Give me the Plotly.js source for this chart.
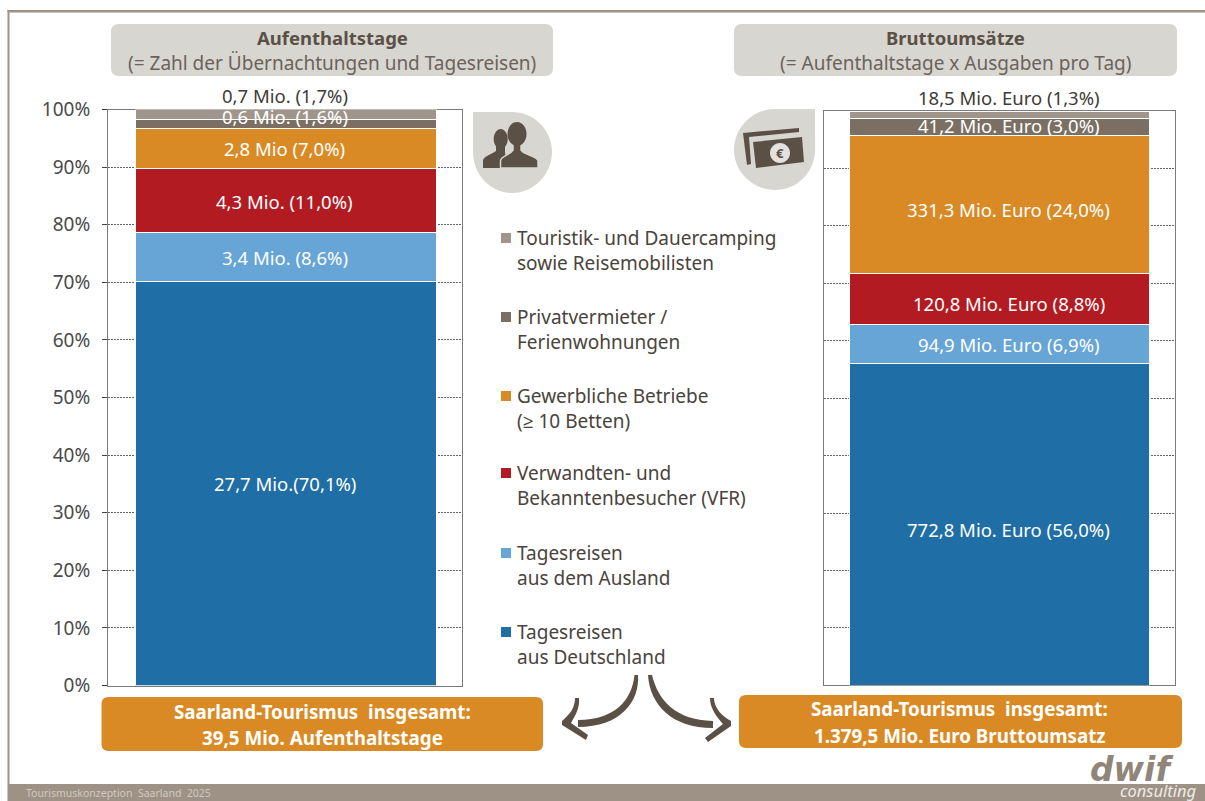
<!DOCTYPE html>
<html><head><meta charset="utf-8">
<script src="https://cdn.plot.ly/plotly-3.0.1.min.js"></script>
<style>html,body{margin:0;padding:0;background:#fff}#c{width:1205px;height:801px}</style></head>
<body><div id="c"></div>
<script>
const seriesNames=["Tagesreisen aus Deutschland","Tagesreisen aus dem Ausland","Verwandten- und Bekanntenbesucher (VFR)","Gewerbliche Betriebe (≥ 10 Betten)","Privatvermieter / Ferienwohnungen","Touristik- und Dauercamping sowie Reisemobilisten"];
const seriesColors=["#1f6ea6","#66a5d6","#b31b22","#d98a24","#7b6f63","#a0958a"];
const aufenthaltValues=[70.1,8.6,11.0,7.0,1.6,1.7];
const aufenthaltLabels=["27,7 Mio.(70,1%)","3,4 Mio. (8,6%)","4,3 Mio. (11,0%)","2,8 Mio (7,0%)","0,6 Mio. (1,6%)","0,7 Mio. (1,7%)"];
const umsatzValues=[56.0,6.9,8.8,24.0,3.0,1.3];
const umsatzLabels=["772,8 Mio. Euro (56,0%)","94,9 Mio. Euro (6,9%)","120,8 Mio. Euro (8,8%)","331,3 Mio. Euro (24,0%)","41,2 Mio. Euro (3,0%)","18,5 Mio. Euro (1,3%)"];
const tickVals=[0,10,20,30,40,50,60,70,80,90,100];
const tickText=["0%","10%","20%","30%","40%","50%","60%","70%","80%","90%","100%"];
const legendTexts=["Touristik- und Dauercamping<br>sowie Reisemobilisten","Privatvermieter /<br>Ferienwohnungen","Gewerbliche Betriebe<br>(≥ 10 Betten)","Verwandten- und<br>Bekanntenbesucher (VFR)","Tagesreisen<br>aus dem Ausland","Tagesreisen<br>aus Deutschland"];

const W=1205,H=801,FONT='"Noto Sans","Open Sans",sans-serif';
const X=p=>p/W, Y=p=>1-p/H;
function P(cmds){return cmds.replace(/(-?[\d.]+),(-?[\d.]+)/g,(m,a,b)=>X(+a).toFixed(5)+','+Y(+b).toFixed(5));}
function round(x0,y0,x1,y1,r){return P(`M${x0+r},${y0} L${x1-r},${y0} Q${x1},${y0} ${x1},${y0+r} L${x1},${y1-r} Q${x1},${y1} ${x1-r},${y1} L${x0+r},${y1} Q${x0},${y1} ${x0},${y1-r} L${x0},${y0+r} Q${x0},${y0} ${x0+r},${y0} Z`);}
function ell(cx,cy,rx,ry){const k=.5523,a=rx*k,b=ry*k;return P(`M${cx-rx},${cy} C${cx-rx},${cy-b} ${cx-a},${cy-ry} ${cx},${cy-ry} C${cx+a},${cy-ry} ${cx+rx},${cy-b} ${cx+rx},${cy} C${cx+rx},${cy+b} ${cx+a},${cy+ry} ${cx},${cy+ry} C${cx-a},${cy+ry} ${cx-rx},${cy+b} ${cx-rx},${cy} Z`);}
const fill=(path,c,line)=>({type:'path',xref:'paper',yref:'paper',path,fillcolor:c,line:line||{width:0},layer:'above'});
const rect=(x0,y0,x1,y1,c)=>({type:'rect',xref:'paper',yref:'paper',x0:X(x0),x1:X(x1),y0:Y(y0),y1:Y(y1),fillcolor:c,line:{width:0},layer:'above'});
const txt=(t,px,py,size,color,extra,fam)=>Object.assign({xref:'paper',yref:'paper',x:X(px),y:Y(py),text:t,showarrow:false,xanchor:'center',yanchor:'middle',font:{family:fam||FONT,size,color}},extra||{});

const traces=[];
function addBars(vals,xa,ya){vals.forEach((v,i)=>traces.push({type:'bar',x:[0],y:[v],width:1,name:seriesNames[i],xaxis:xa,yaxis:ya,showlegend:false,hoverinfo:'skip',marker:{color:seriesColors[i],line:{color:'#fff',width:1}}}));}
addBars(aufenthaltValues,'x','y');
addBars(umsatzValues,'x2','y2');

const ann=[];
function addLabels(vals,labels,xa,ya,shifts,dx){let c=0;vals.forEach((v,i)=>{
  ann.push({xref:xa,yref:ya,x:0,y:c+v/2,xshift:dx,yshift:shifts[i],text:labels[i],showarrow:false,xanchor:'center',yanchor:'middle',font:{family:FONT,size:18.5,color:i==5?'#3f3a36':'#fff'}});c+=v;});}
addLabels(aufenthaltValues,aufenthaltLabels,'x','y',[0,-1,-1,0,7,19],-1);
addLabels(umsatzValues,umsatzLabels,'x2','y2',[-5,-1,-5,-5,2,17],9);

const DARK='#5b5046', BOX='#d8d6d1', OR='#d98a24';
const shapes=[
 rect(7.5,10,W,12.5,'#9e9286'), rect(7.5,10,9.5,784,'#9e9286'), rect(7.5,784,W,801,'#9e9286'),
 fill(round(111,24,553,76,8),BOX), fill(round(734,24,1177,76,8),BOX),
 fill(round(101.5,697,543,751,7),OR), fill(round(739,695,1182,748,7),OR),
 fill(P('M473,112 L512,112 C534,112 552,130 552,152 C552,174 534,193 512,193 C490,193 473,174 473,152 Z'),BOX),
 fill(P('M815,109 L775,109 C753,109 734,127 734,150 C734,172 753,190 775,190 C797,190 815,172 815,150 Z'),BOX),
 // people
 fill(ell(500.7,139,7,10),DARK),
 fill(P('M483,168 L483,161 C483,156 491,155 496,151 L496,146 L505,146 L505,151 C505,156 507,158 507,168 Z'),DARK),
 fill(P('M500.5,168 L500.5,161 C500.5,156 510,155 513,150 L513,142 L521,142 L521,150 C524,155 538,156 538,161 L538,168 Z'),DARK,{color:BOX,width:1.5}),
 fill(ell(517,134,9.5,12),DARK),
 // money
 fill(P('M743,133 L799,128 L799,132 L749,137 L751,164 L747,165 Z'),DARK),
 fill(P('M753,142 L802,137 L804,162 L756,168 Z'),DARK),
 fill(ell(780,153,10,10),'#e4e2de'),
 // arrows
 fill(P('M634.5,675 C632,700 615,720 578,720 L578,727 C620,727 640,702 638,675 Z'),DARK),
 fill(P('M575,698 L579,698 C580,708 575,716 571,723 L588,735 L586,740 L562,725 L562,721 C570,714 575,708 575,698 Z'),DARK),
 fill(P('M648,675 L652,675 C658,700 675,720 713,721 L713,728 C672,728 650,705 648,675 Z'),DARK),
 fill(P('M710,698 L714,698 C714,708 722,716 731,721 L731,726 L708,742 L705,738 L723,724 C716,716 710,708 710,698 Z'),DARK)
];
const sqY=[238,317,396,473,553,632];
const sqColors=[5,4,3,2,1,0].map(i=>seriesColors[i]);
sqY.forEach((y,i)=>{
 shapes.push(rect(501,y-5,511,y+5,sqColors[i]));
 ann.push(txt(legendTexts[i],514.5,y+12,19,'#4a433c',{xanchor:'left',align:'left'}));
});
ann.push(
 txt('<b>Aufenthaltstage</b>',332,37,18.5,DARK),
 txt('(= Zahl der Übernachtungen und Tagesreisen)',332,63,19,'#6b635a'),
 txt('<b>Bruttoumsätze</b>',955.5,37,18.5,DARK),
 txt('(= Aufenthaltstage x Ausgaben pro Tag)',955.5,63,19,'#6b635a'),
 txt('<b>Saarland-Tourismus  insgesamt:</b>',322,712,18.8,'#fff'),
 txt('<b>39,5 Mio. Aufenthaltstage</b>',322,738,18.8,'#fff'),
 txt('<b>Saarland-Tourismus  insgesamt:</b>',960,709,18.8,'#fff'),
 txt('<b>1.379,5 Mio. Euro Bruttoumsatz</b>',960,736,18.8,'#fff'),
 txt('<b>€</b>',780,153,13,DARK),
 txt('Tourismuskonzeption  Saarland  2025',24,793,10.5,'#cfc9c0',{xanchor:'left'}),
 txt('<b><i>dwif</i></b>',1131,769,33,'#8f8679',null,'"DejaVu Sans",sans-serif'),
 txt('<i>consulting</i>',1158,790,16.5,'#efeae4')
);

const axLine='#7a7a7a';
const L=-177.5/301,R=176/301;
const layout={width:W,height:H,margin:{l:0,r:0,t:0,b:0,pad:0},paper_bgcolor:'#fff',plot_bgcolor:'rgba(0,0,0,0)',barmode:'stack',showlegend:false,
 font:{family:FONT},
 xaxis:{domain:[X(108),X(461.5)],range:[L,R],showticklabels:false,ticks:'',showgrid:false,zeroline:false,showline:true,linecolor:axLine,linewidth:1,mirror:true,layer:'below traces',fixedrange:true},
 yaxis:{domain:[Y(685.5),Y(109.5)],range:[0,100],tickvals:tickVals,ticktext:tickText,ticks:'outside',ticklen:5,tickcolor:'#444',tickfont:{family:FONT,size:19,color:'#4a4a4a'},ticklabelstandoff:8,showgrid:true,gridcolor:'#666',griddash:'2px,1px',gridwidth:1,zeroline:false,showline:true,linecolor:axLine,linewidth:1,mirror:true,layer:'below traces',fixedrange:true},
 xaxis2:{domain:[X(823.5),X(1175)],anchor:'y2',range:[-26.5/299.3,1+26/299.3].map(v=>v-0.5),showticklabels:false,ticks:'',showgrid:false,zeroline:false,showline:true,linecolor:axLine,linewidth:1,mirror:true,layer:'below traces',fixedrange:true},
 yaxis2:{domain:[Y(685.3),Y(111)],anchor:'x2',range:[0,100],tickvals:tickVals,showticklabels:false,ticks:'',showgrid:true,gridcolor:'#666',griddash:'2px,1px',gridwidth:1,zeroline:false,showline:true,linecolor:axLine,linewidth:1,mirror:true,layer:'below traces',fixedrange:true},
 shapes,annotations:ann};
Plotly.newPlot('c',traces,layout,{displayModeBar:false,staticPlot:true});
</script></body></html>
